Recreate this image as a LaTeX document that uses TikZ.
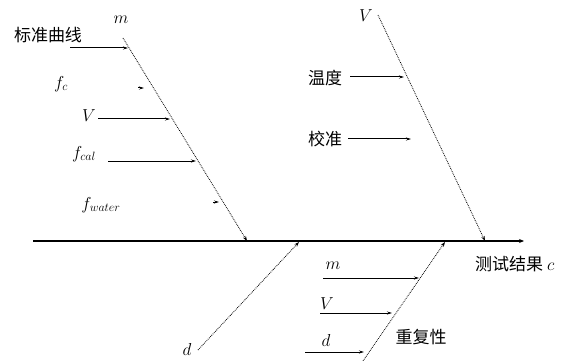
\documentclass[tikz,border=0pt]{standalone}
\usepackage{fontspec}
\newfontfamily\cjk{Noto Sans CJK SC}
\usetikzlibrary{arrows.meta}
\tikzset{
  spine/.style = {line width=1.6pt, -{Stealth[length=5pt,width=4pt]}},
  bone/.style  = {densely dotted, line width=0.8pt, -{Stealth[length=5pt,width=3.5pt]}},
  cause/.style = {line width=1pt, -{Stealth[length=5pt,width=3pt]}},
  lbl/.style   = {font=\fontsize{17}{19}\selectfont, inner sep=1pt},
  zh/.style    = {font=\cjk\fontsize{17}{19}\selectfont, inner sep=1pt}
}
\begin{document}
\begin{tikzpicture}[x=1pt, y=-1pt]
  \useasboundingbox (0,0) rectangle (563,361);

  % main line
  \coordinate (start) at (33,241);
  \coordinate (stop) at (524,241);
  \draw[spine] (start) -- (stop);
  \node[zh, anchor=west] (result) at (474,264) {测试结果 $c$};

  % upper left bone
  \node[lbl] (m1) at (121,20) {$m$};
  \coordinate (m1top) at (123,38);
  \coordinate (m1end) at (247,241);
  \draw[bone] (m1top) -- (m1end);
  \node[zh] (curve) at (48,35) {标准曲线};
  \coordinate (curvetail) at (70,48);
  \coordinate (curvehead) at (128,48);
  \draw[cause] (curvetail) -- (curvehead);
  \node[lbl] (fc) at (61,84) {$f_c$};
  \coordinate (fctail) at (138,88);
  \coordinate (fchead) at (144,88);
  \draw[cause] (fctail) -- (fchead);
  \node[lbl] (v1) at (89,116) {$V$};
  \coordinate (v1tail) at (98,119);
  \coordinate (v1head) at (170,119);
  \draw[cause] (v1tail) -- (v1head);
  \node[lbl] (fcal) at (84,154) {$f_{cal}$};
  \coordinate (fcaltail) at (108,161);
  \coordinate (fcalhead) at (196,161);
  \draw[cause] (fcaltail) -- (fcalhead);
  \node[lbl] (fwat) at (101,205) {$f_{water}$};
  \coordinate (fwattail) at (213,202);
  \coordinate (fwathead) at (219,202);
  \draw[cause] (fwattail) -- (fwathead);

  % upper right bone
  \node[lbl] (v2) at (366,16) {$V$};
  \coordinate (v2top) at (378,15);
  \coordinate (v2end) at (485,241);
  \draw[bone] (v2top) -- (v2end);
  \node[zh] (temp) at (325,78) {温度};
  \coordinate (temptail) at (350,77);
  \coordinate (temphead) at (404,77);
  \draw[cause] (temptail) -- (temphead);
  \node[zh] (calib) at (325,139) {校准};
  \coordinate (calibtail) at (348,139);
  \coordinate (calibhead) at (411,139);
  \draw[cause] (calibtail) -- (calibhead);

  % lower left bone
  \node[lbl] (d1) at (187,349) {$d$};
  \coordinate (d1bot) at (198,350);
  \coordinate (d1end) at (299,242);
  \draw[bone] (d1bot) -- (d1end);

  % lower right bone
  \node[zh] (repeat) at (421,337) {重复性};
  \coordinate (repbot) at (363,361);
  \coordinate (repend) at (445,242);
  \draw[bone] (repbot) -- (repend);
  \node[lbl] (m2) at (333,266) {$m$};
  \coordinate (m2tail) at (323,278);
  \coordinate (m2head) at (419,278);
  \draw[cause] (m2tail) -- (m2head);
  \node[lbl] (v3) at (327,304) {$V$};
  \coordinate (v3tail) at (320,313);
  \coordinate (v3head) at (392,313);
  \draw[cause] (v3tail) -- (v3head);
  \node[lbl] (d2) at (326,340) {$d$};
  \coordinate (d2tail) at (305,352);
  \coordinate (d2head) at (364,352);
  \draw[cause] (d2tail) -- (d2head);
\end{tikzpicture}
\end{document}
